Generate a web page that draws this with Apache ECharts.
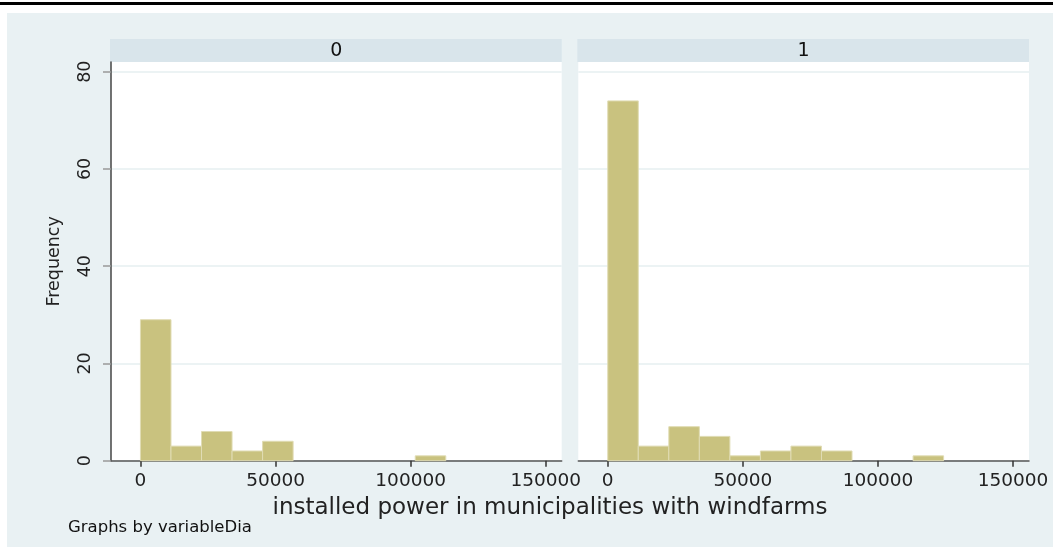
<!DOCTYPE html>
<html><head><meta charset="utf-8">
<script src="https://cdn.jsdelivr.net/npm/echarts@6/dist/echarts.min.js"></script>
<style>html,body{margin:0;padding:0;background:#fff;}#c{width:1053px;height:547px;}</style>
</head><body><div id="c"></div>
<script>
// ---- data ----
const panelLabels = ['0', '1'];
const binWidth = 11300;               // histogram bin width (kW)
const counts0 = [29, 3, 6, 2, 4, 0, 0, 0, 0, 1];
const counts1 = [74, 3, 7, 5, 1, 2, 3, 2, 0, 0, 1];
const xTicks = [0, 50000, 100000, 150000];
const yTicks = [0, 20, 40, 60, 80];
const xTitle = 'installed power in municipalities with windfarms';
const yTitle = 'Frequency';
const noteText = 'Graphs by variableDia';

// ---- layout ----
const W = 1053, H = 547;
const plotTop = 62, plotBottom = 460.7;
const panels = [{ left: 111, right: 561.7 }, { left: 578.3, right: 1029 }];
const xMin = -10900, xMax = 155900, yMax = 82;
const FONT = 'DejaVu Sans';
const barFill = '#c9c27f', barStroke = '#e0dcb4';

function bins(counts) {
  const out = [];
  counts.forEach((c, i) => { if (c > 0) out.push([i * binWidth, (i + 1) * binWidth, c]); });
  return out;
}
const allCounts = [counts0, counts1];

const grids = panels.map(p => ({
  left: p.left, width: p.right - p.left, top: plotTop, height: plotBottom - plotTop,
  show: true, backgroundColor: '#ffffff', borderWidth: 0, containLabel: false
}));

const xAxes = panels.map((p, i) => ({
  type: 'value', gridIndex: i, min: xMin, max: xMax,
  axisLine: { show: true, onZero: false, lineStyle: { color: '#555', width: 1.5 } },
  axisTick: { show: true, customValues: xTicks, length: 6, lineStyle: { color: '#333', width: 1.5 } },
  axisLabel: { show: true, customValues: xTicks, formatter: v => String(v), color: '#222', fontFamily: FONT, fontSize: 18.5, margin: 11 },
  splitLine: { show: false }
}));

const yAxes = panels.map((p, i) => ({
  type: 'value', gridIndex: i, min: 0, max: yMax,
  name: i === 0 ? yTitle : '', nameLocation: 'middle', nameRotate: 90, nameGap: 48,
  nameTextStyle: { color: '#222', fontFamily: FONT, fontSize: 17.5 },
  axisLine: { show: i === 0, onZero: false, lineStyle: { color: '#444', width: 1.5 } },
  axisTick: { show: i === 0, customValues: yTicks, length: 8, lineStyle: { color: '#999', width: 1.5 } },
  axisLabel: { show: i === 0, customValues: yTicks, formatter: v => String(v), rotate: 90, color: '#222', fontFamily: FONT, fontSize: 17.5, margin: 17 },
  splitLine: { show: true, lineStyle: { color: '#e6eff1', width: 1.5 } }
}));

const series = allCounts.map((counts, i) => ({
  type: 'custom', xAxisIndex: i, yAxisIndex: i,
  data: bins(counts),
  encode: { x: [0, 1], y: 2 },
  renderItem: function (params, api) {
    const p0 = api.coord([api.value(0), api.value(2)]);
    const p1 = api.coord([api.value(1), 0]);
    return {
      type: 'rect',
      shape: { x: p0[0], y: p0[1], width: p1[0] - p0[0], height: p1[1] - p0[1] },
      style: { fill: barFill, stroke: barStroke, lineWidth: 1 }
    };
  }
}));

const graphics = [
  { type: 'rect', left: 7, top: 13, shape: { width: W - 7, height: H - 13 }, style: { fill: '#e9f1f3' }, z: -10, silent: true },
  { type: 'rect', left: 0, top: 2, shape: { width: W, height: 3 }, style: { fill: '#000' }, z: -10, silent: true }
];
panels.forEach((p, i) => {
  graphics.push({ type: 'rect', left: p.left - 1, top: 39, shape: { width: p.right - p.left + 1, height: 23 }, style: { fill: '#d9e5eb' }, z: -5, silent: true });
  graphics.push({ type: 'text', x: (p.left + p.right) / 2, y: 51, style: { text: panelLabels[i], fill: '#111', font: '19px "DejaVu Sans"', textAlign: 'center', textVerticalAlign: 'middle' }, silent: true });
});
graphics.push({ type: 'text', x: 550, y: 508, style: { text: xTitle, fill: '#222', font: '23px "DejaVu Sans"', textAlign: 'center', textVerticalAlign: 'middle' }, silent: true });
graphics.push({ type: 'text', x: 68, y: 528, style: { text: noteText, fill: '#111', font: '16.5px "DejaVu Sans"', textAlign: 'left', textVerticalAlign: 'middle' }, silent: true });

const chart = echarts.init(document.getElementById('c'), null, { renderer: 'canvas' });
chart.setOption({
  animation: false,
  backgroundColor: '#ffffff',
  grid: grids,
  xAxis: xAxes,
  yAxis: yAxes,
  series: series,
  graphic: graphics
});
</script>
</body></html>
